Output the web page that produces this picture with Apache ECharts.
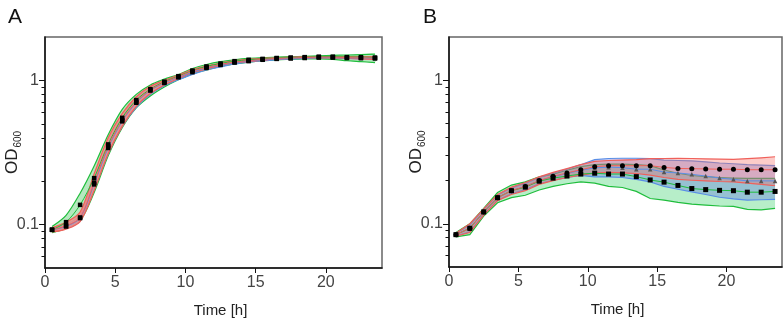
<!DOCTYPE html>
<html>
<head>
  <meta charset="UTF-8">
  <title>growth curves</title>
  <style>
    body { margin: 0; background: #fff; }
    #main { width: 783px; height: 318px; }
  </style>
  <script src="https://cdn.jsdelivr.net/npm/echarts@6/dist/echarts.min.js"></script>
</head>
<body>
<div id="main"></div>
<script type="text/javascript">
  // time points (h)
  const hours = [0.5, 1.5, 2.5, 3.5, 4.5, 5.5, 6.5, 7.5, 8.5, 9.5, 10.5, 11.5,
    12.5, 13.5, 14.5, 15.5, 16.5, 17.5, 18.5, 19.5, 20.5, 21.5, 22.5, 23.5];
  const xTicks = [0, 5, 10, 15, 20];
  const yMinorTicks = [0.06, 0.07, 0.08, 0.09, 0.2, 0.3, 0.4, 0.5, 0.6, 0.7, 0.8, 0.9];

  // panel A
  const aRedMean = [0.092, 0.098, 0.112, 0.195, 0.35, 0.53, 0.71, 0.86, 0.97, 1.06, 1.16, 1.23, 1.29, 1.34, 1.37, 1.40, 1.42, 1.43, 1.44, 1.45, 1.45, 1.44, 1.43, 1.43];
  const aRedLo = [0.089, 0.093, 0.105, 0.172, 0.31, 0.48, 0.66, 0.81, 0.93, 1.03, 1.13, 1.20, 1.27, 1.32, 1.35, 1.38, 1.41, 1.42, 1.43, 1.44, 1.43, 1.42, 1.41, 1.40];
  const aRedHi = [0.095, 0.104, 0.122, 0.225, 0.40, 0.59, 0.77, 0.91, 1.00, 1.09, 1.19, 1.26, 1.32, 1.37, 1.40, 1.42, 1.44, 1.45, 1.46, 1.46, 1.46, 1.46, 1.46, 1.46];
  const aBlueMean = [0.092, 0.097, 0.111, 0.19, 0.34, 0.52, 0.70, 0.85, 0.96, 1.05, 1.14, 1.22, 1.28, 1.33, 1.36, 1.39, 1.41, 1.42, 1.43, 1.44, 1.44, 1.43, 1.43, 1.42];
  const aBlueLo = [0.090, 0.094, 0.106, 0.175, 0.31, 0.48, 0.65, 0.80, 0.92, 1.01, 1.10, 1.18, 1.24, 1.30, 1.34, 1.37, 1.39, 1.41, 1.42, 1.43, 1.43, 1.42, 1.41, 1.40];
  const aBlueHi = [0.094, 0.100, 0.116, 0.205, 0.37, 0.56, 0.75, 0.90, 0.99, 1.08, 1.18, 1.25, 1.31, 1.36, 1.38, 1.41, 1.43, 1.44, 1.45, 1.45, 1.45, 1.44, 1.44, 1.44];
  const aGreenMean = [0.092, 0.104, 0.137, 0.21, 0.36, 0.55, 0.73, 0.87, 0.98, 1.07, 1.17, 1.25, 1.31, 1.36, 1.39, 1.41, 1.43, 1.44, 1.45, 1.46, 1.46, 1.45, 1.45, 1.44];
  const aGreenLo = [0.088, 0.094, 0.106, 0.167, 0.30, 0.47, 0.645, 0.78, 0.90, 1.01, 1.11, 1.18, 1.25, 1.30, 1.34, 1.37, 1.39, 1.40, 1.41, 1.41, 1.40, 1.37, 1.35, 1.33];
  const aGreenHi = [0.097, 0.116, 0.165, 0.255, 0.42, 0.63, 0.80, 0.93, 1.02, 1.10, 1.21, 1.29, 1.35, 1.39, 1.42, 1.44, 1.45, 1.46, 1.47, 1.48, 1.49, 1.50, 1.51, 1.52];

  // panel B
  const bRedMean = [0.084, 0.093, 0.121, 0.152, 0.170, 0.182, 0.200, 0.214, 0.226, 0.238, 0.250, 0.254, 0.254, 0.254, 0.254, 0.247, 0.243, 0.242, 0.241, 0.240, 0.240, 0.238, 0.238, 0.238];
  const bRedLo = [0.082, 0.087, 0.115, 0.145, 0.160, 0.170, 0.188, 0.200, 0.210, 0.218, 0.225, 0.228, 0.226, 0.224, 0.218, 0.210, 0.204, 0.201, 0.199, 0.197, 0.196, 0.192, 0.188, 0.184];
  const bRedHi = [0.086, 0.100, 0.127, 0.160, 0.180, 0.194, 0.212, 0.228, 0.242, 0.258, 0.272, 0.276, 0.278, 0.280, 0.284, 0.285, 0.286, 0.285, 0.283, 0.282, 0.281, 0.284, 0.288, 0.293];
  const bBlueMean = [0.084, 0.093, 0.121, 0.152, 0.170, 0.182, 0.200, 0.212, 0.224, 0.236, 0.245, 0.248, 0.246, 0.240, 0.240, 0.229, 0.226, 0.221, 0.215, 0.208, 0.204, 0.199, 0.199, 0.199];
  const bBlueLo = [0.082, 0.088, 0.116, 0.146, 0.162, 0.173, 0.190, 0.201, 0.210, 0.217, 0.212, 0.212, 0.210, 0.204, 0.196, 0.182, 0.174, 0.167, 0.160, 0.153, 0.149, 0.146, 0.147, 0.148];
  const bBlueHi = [0.086, 0.098, 0.126, 0.158, 0.178, 0.191, 0.210, 0.225, 0.240, 0.258, 0.280, 0.285, 0.286, 0.286, 0.284, 0.278, 0.276, 0.274, 0.270, 0.265, 0.262, 0.258, 0.256, 0.254];
  const bGreenMean = [0.084, 0.093, 0.121, 0.152, 0.170, 0.180, 0.198, 0.208, 0.215, 0.222, 0.225, 0.222, 0.222, 0.213, 0.202, 0.195, 0.185, 0.176, 0.173, 0.171, 0.170, 0.166, 0.166, 0.168];
  const bGreenLo = [0.081, 0.084, 0.113, 0.140, 0.152, 0.158, 0.172, 0.182, 0.190, 0.196, 0.192, 0.182, 0.179, 0.168, 0.150, 0.146, 0.141, 0.137, 0.135, 0.133, 0.132, 0.126, 0.125, 0.128];
  const bGreenHi = [0.087, 0.100, 0.128, 0.165, 0.186, 0.196, 0.212, 0.222, 0.236, 0.250, 0.258, 0.260, 0.260, 0.258, 0.254, 0.237, 0.225, 0.217, 0.213, 0.210, 0.208, 0.207, 0.207, 0.207];

  const RED = '#f0605a', BLUE = '#5a8ee6', GREEN = '#1fbd3c';
  const FONT = "'Liberation Sans', Arial, sans-serif";

  const chart = echarts.init(document.getElementById('main'));

  function xAxisOf(gi, shift) {
    return {
      type: 'value', gridIndex: gi, min: 0, max: 24,
      name: 'Time [h]', nameLocation: 'middle', nameGap: 35, nameMoveOverlap: false,
      nameTextStyle: { fontSize: 15, color: '#222', fontFamily: FONT, padding: [0, 0, 0, shift] },
      axisLine: { lineStyle: { color: '#111', width: 1.5 } },
      axisTick: { customValues: xTicks, length: 5, lineStyle: { color: '#111' } },
      axisLabel: { customValues: xTicks, fontSize: 16, color: '#444', margin: 7, fontFamily: FONT },
      splitLine: { show: false }
    };
  }

  function yAxisOf(gi) {
    return {
      type: 'log', logBase: 10, gridIndex: gi, min: 0.05, max: 2, position: 'left',
      name: '{a|OD}{b|600}', nameLocation: 'middle', nameGap: 24, nameRotate: 90, nameMoveOverlap: false,
      nameTextStyle: {
        color: '#222', fontFamily: FONT,
        rich: {
          a: { fontSize: 17, lineHeight: 17, verticalAlign: 'top', color: '#222', fontFamily: FONT },
          b: { fontSize: 10, lineHeight: 10, padding: [11, 0, 0, 1], color: '#222', fontFamily: FONT }
        }
      },
      axisLine: { show: true, lineStyle: { color: '#111', width: 1.5 } },
      axisTick: { length: 6, lineStyle: { color: '#111' } },
      axisLabel: {
        fontSize: 16, color: '#444', margin: 6, fontFamily: FONT,
        showMinLabel: false, showMaxLabel: false
      },
      minorTick: { show: false },
      splitLine: { show: false }
    };
  }

  function yMinorAxisOf(gi) {
    return {
      type: 'log', logBase: 10, gridIndex: gi, min: 0.05, max: 2, position: 'left',
      axisLine: { show: false },
      axisTick: { customValues: yMinorTicks, length: 3.5, lineStyle: { color: '#111' } },
      axisLabel: { show: false },
      splitLine: { show: false }
    };
  }

  function band(xi, yi, lo, hi, fill, edge, smooth) {
    return {
      type: 'custom', xAxisIndex: xi, yAxisIndex: yi, z: 2,
      data: [[hours[0], lo[0]]],
      silent: true,
      renderItem: function (params, api) {
        const top = hours.map(function (h, i) { return api.coord([h, hi[i]]); });
        const bottom = hours.map(function (h, i) { return api.coord([h, lo[i]]); });
        return {
          type: 'group',
          children: [
            { type: 'polygon', shape: { points: top.concat(bottom.slice().reverse()), smooth: smooth }, style: { fill: fill } },
            { type: 'polyline', shape: { points: top, smooth: smooth }, style: { stroke: edge, lineWidth: 1.2, fill: null } },
            { type: 'polyline', shape: { points: bottom, smooth: smooth }, style: { stroke: edge, lineWidth: 1.2, fill: null } }
          ]
        };
      }
    };
  }

  function mean(xi, yi, vals, edge, symbol, size, mark, smooth) {
    return {
      type: 'line', xAxisIndex: xi, yAxisIndex: yi, z: 5,
      data: hours.map(function (h, i) { return [h, vals[i]]; }),
      symbol: symbol, symbolSize: size, smooth: smooth,
      itemStyle: { color: mark, borderWidth: 0 },
      lineStyle: { color: edge, width: 1 },
      animation: false
    };
  }

  const option = {
    animation: false,
    grid: [
      { left: 45, top: 37, width: 337, height: 231, show: true, borderColor: '#666', borderWidth: 1.5, backgroundColor: '#fff', containLabel: false, outerBoundsMode: 'none' },
      { left: 449, top: 37, width: 333, height: 230, show: true, borderColor: '#666', borderWidth: 1.5, backgroundColor: '#fff', containLabel: false, outerBoundsMode: 'none' }
    ],
    xAxis: [xAxisOf(0, 14), xAxisOf(1, 4)],
    yAxis: [yAxisOf(0), yMinorAxisOf(0), yAxisOf(1), yMinorAxisOf(1)],
    graphic: [
      { type: 'text', left: 8, top: 7, style: { text: 'A', fontSize: 21, fill: '#111', fontFamily: FONT } },
      { type: 'text', left: 423, top: 7, style: { text: 'B', fontSize: 21, fill: '#111', fontFamily: FONT } }
    ],
    series: [
      band(0, 0, aGreenLo, aGreenHi, 'rgba(90,205,110,0.45)', GREEN, 0.3),
      band(0, 0, aBlueLo, aBlueHi, 'rgba(110,150,235,0.5)', BLUE, 0.3),
      band(0, 0, aRedLo, aRedHi, 'rgba(243,140,130,0.85)', RED, 0.3),
      mean(0, 0, aGreenMean, GREEN, 'rect', 4.5, '#000', 0.3),
      mean(0, 0, aBlueMean, BLUE, 'rect', 4.5, '#000', 0.3),
      mean(0, 0, aRedMean, RED, 'rect', 4.5, '#000', 0.3),

      band(1, 2, bGreenLo, bGreenHi, 'rgba(50,205,100,0.35)', GREEN, 0),
      band(1, 2, bBlueLo, bBlueHi, 'rgba(90,110,225,0.35)', BLUE, 0),
      band(1, 2, bRedLo, bRedHi, 'rgba(245,110,100,0.35)', RED, 0),
      mean(1, 2, bBlueMean, BLUE, 'triangle', 4.5, '#555', false),
      mean(1, 2, bGreenMean, GREEN, 'rect', 5, '#000', false),
      mean(1, 2, bRedMean, RED, 'circle', 5, '#000', false)
    ]
  };

  chart.setOption(option);
</script>
</body>
</html>
